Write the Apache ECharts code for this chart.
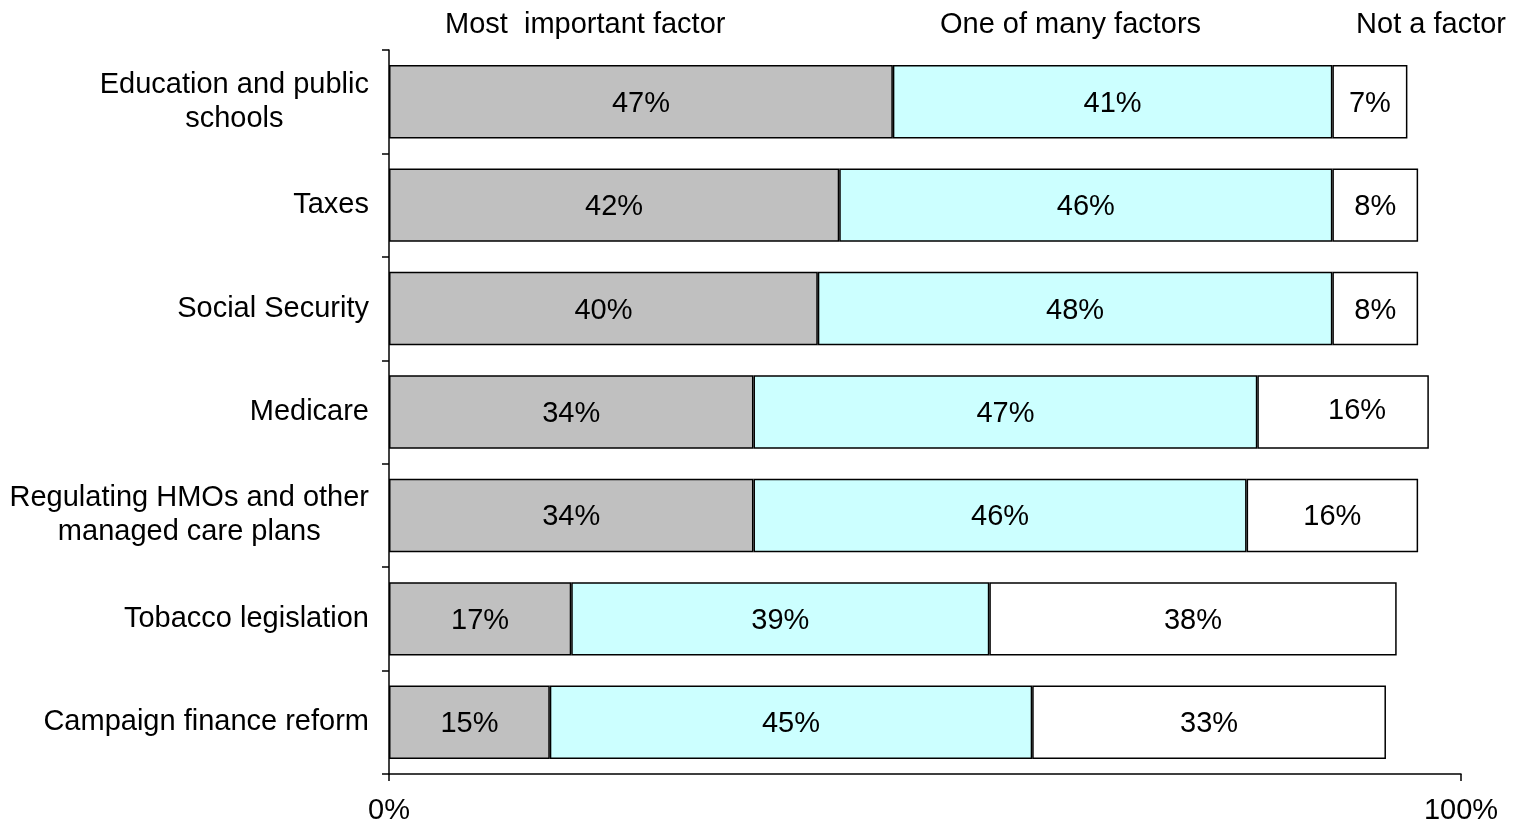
<!DOCTYPE html>
<html>
<head>
<meta charset="utf-8">
<title>Factors</title>
<script src="https://cdn.jsdelivr.net/npm/echarts@6/dist/echarts.min.js"></script>
<style>
    html, body { margin: 0; padding: 0; background: #fff; }
    #chart { width: 1514px; height: 825px; }
</style>
</head>
<body>
<div id="chart"></div>
<script>
    // categories, top to bottom
    var categories = [
        'Education and public\nschools',
        'Taxes',
        'Social Security',
        'Medicare',
        'Regulating HMOs and other\nmanaged care plans',
        'Tobacco legislation',
        'Campaign finance reform'
    ];
    var mostImportant = [47, 42, 40, 34, 34, 17, 15];
    var oneOfMany = [41, 46, 48, 47, 46, 39, 45];
    var notAFactor = [7, 8, 8, 16, 16, 38, 33];
    var seriesNames = ['Most  important factor', 'One of many factors', 'Not a factor'];

    var FONT = '"Liberation Sans", Arial, sans-serif';
    var FS = 29;

    function makeSeries(name, data, color) {
        return {
            name: name,
            type: 'bar',
            stack: 'total',
            data: data,
            barCategoryGap: '29%',
            itemStyle: {
                color: color,
                borderColor: '#000',
                borderWidth: 1.5
            },
            label: {
                show: true,
                position: 'inside',
                formatter: '{c}%',
                color: '#000',
                fontSize: FS,
                fontFamily: FONT,
                offset: [0, 2]
            },
            emphasis: { disabled: true }
        };
    }

    // the Medicare "not a factor" label sits a little off centre in the original
    var notAFactorData = notAFactor.map(function (v, i) {
        if (i === 3) {
            return { value: v, label: { offset: [14, -1] } };
        }
        return v;
    });

    var myChart = echarts.init(document.getElementById('chart'));
    var chartOption = {
        animation: false,
        backgroundColor: '#fff',
        textStyle: { fontFamily: FONT },
        grid: {
            left: 389,
            right: 53,
            top: 50,
            bottom: 50,
            containLabel: false
        },
        // column headers above the bars
        graphic: [
            {
                type: 'text', left: 445, top: 10,
                style: { text: seriesNames[0], fontSize: FS, fontFamily: FONT, fill: '#000' }
            },
            {
                type: 'text', left: 940, top: 10,
                style: { text: seriesNames[1], fontSize: FS, fontFamily: FONT, fill: '#000' }
            },
            {
                type: 'text', right: 8, top: 10,
                style: { text: seriesNames[2], fontSize: FS, fontFamily: FONT, fill: '#000' }
            }
        ],
        xAxis: {
            type: 'value',
            min: 0,
            max: 100,
            interval: 100,
            splitLine: { show: false },
            axisLine: { show: true, lineStyle: { color: '#000', width: 1.5 } },
            axisTick: { show: true, length: 7, lineStyle: { color: '#000', width: 1.5 } },
            axisLabel: {
                formatter: '{value}%',
                color: '#000',
                fontSize: FS,
                fontFamily: FONT,
                margin: 22
            }
        },
        yAxis: {
            type: 'category',
            inverse: true,
            data: categories,
            axisLine: { show: true, lineStyle: { color: '#000', width: 1.5 } },
            axisTick: { show: true, length: 7, lineStyle: { color: '#000', width: 1.5 } },
            axisLabel: {
                color: '#000',
                margin: 20,
                align: 'right',
                // lines centred within the block, block right-aligned to the axis
                formatter: function (val) {
                    return val.split('\n').map(function (s) {
                        return '{c|' + s + '}';
                    }).join('\n');
                },
                rich: {
                    c: {
                        align: 'center',
                        fontSize: FS,
                        fontFamily: FONT,
                        color: '#000',
                        lineHeight: 34
                    }
                }
            }
        },
        series: [
            makeSeries(seriesNames[0], mostImportant, '#c0c0c0'),
            makeSeries(seriesNames[1], oneOfMany, '#ccffff'),
            makeSeries(seriesNames[2], notAFactorData, '#ffffff')
        ]
    };
    myChart.setOption(chartOption);
</script>
</body>
</html>
